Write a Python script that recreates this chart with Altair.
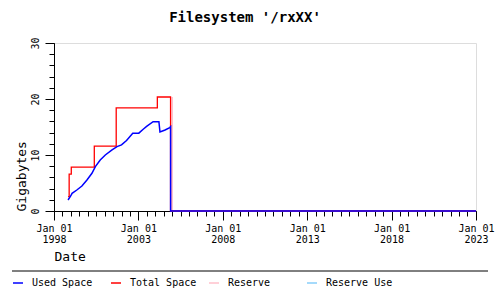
import altair as alt
import pandas as pd

# ---- data ----
used_dates = ["1998-11-01", "1998-12-28", "1999-01-27", "1999-05-10", "1999-08-28",
              "1999-12-15", "2000-04-01", "2000-06-14", "2000-09-27", "2001-01-15",
              "2001-06-10", "2001-09-25", "2002-01-01", "2002-04-20", "2002-09-01",
              "2003-01-10", "2003-04-15", "2003-06-28", "2003-11-15", "2004-03-20",
              "2004-04-12", "2004-07-31", "2004-11-10", "2004-11-28", "2004-11-28",
              "2023-01-01"]
used_vals = [1.96, 2.68, 3.15, 3.75, 4.46,
             5.54, 6.73, 7.92, 9.1, 10.0,
             10.9, 11.5, 11.8, 12.6, 13.87,
             13.9, 14.6, 15.1, 15.95, 15.95,
             14.1, 14.46, 14.9, 15.06, 0.0,
             0.0]

total_dates = ["1998-11-01", "1998-11-25", "1999-01-10", "2000-05-22", "2001-09-08",
               "2004-02-15", "2004-11-27", "2023-01-01"]
total_vals = [2.55, 6.6, 7.85, 11.6, 18.4, 20.36, 0.0, 0.0]

reserve_dates = ["2005-01-02", "2005-01-02", "2023-01-01"]
reserve_vals = [20.36, 0.0, 0.0]

reserve_use_dates = ["2005-01-02", "2023-01-01"]
reserve_use_vals = [0.0, 0.0]

series_names = ["Used Space", "Total Space", "Reserve", "Reserve Use"]
series_colors = ["#0000ff", "#ff0000", "#ffc0cb", "#87cefa"]

major_years = list(range(1998, 2024, 5))
y_major = [0, 10, 20, 30]
y_minor = list(range(0, 31, 2))

FONT = "DejaVu Sans Mono"


def frame(dates, vals, name):
    return pd.DataFrame({
        "date": pd.to_datetime(dates),
        "value": vals,
        "series": name,
        "order": list(range(len(vals))),
    })


df_used = frame(used_dates, used_vals, series_names[0])
df_total = frame(total_dates, total_vals, series_names[1])
df_res = frame(reserve_dates, reserve_vals, series_names[2])
df_resuse = frame(reserve_use_dates, reserve_use_vals, series_names[3])

x_domain = [alt.DateTime(year=1998, month=1, date=1), alt.DateTime(year=2023, month=1, date=1)]
x_major_vals = [alt.DateTime(year=y, month=1, date=1) for y in major_years]
x_minor_vals = []
for y in range(1998, 2023):
    x_minor_vals.append(alt.DateTime(year=y, month=1, date=1))
    x_minor_vals.append(alt.DateTime(year=y, month=7, date=1))
x_minor_vals.append(alt.DateTime(year=2023, month=1, date=1))

x_scale = alt.Scale(domain=x_domain)
y_scale = alt.Scale(domain=[0, 30], nice=False, zero=True)

color_enc = alt.Color(
    "series:N",
    scale=alt.Scale(domain=series_names, range=series_colors),
    legend=alt.Legend(
        title=None, orient="none", legendX=-42, legendY=234,
        direction="horizontal", columns=4, symbolType="stroke",
        symbolSize=100, symbolStrokeWidth=1.5, labelOffset=8,
        columnPadding=9, padding=0, labelFont=FONT, labelFontSize=10,
        labelColor="black", gridAlign="all",
    ),
)

major_x_axis = alt.Axis(
    orient="bottom", values=x_major_vals, tickSize=9, tickColor="black",
    domainColor="black", labelColor="black", labelFont=FONT, labelFontSize=10,
    labelExpr="[timeFormat(datum.value, '%b %d'), timeFormat(datum.value, '%Y')]",
    labelLineHeight=11, labelPadding=3, labelBaseline="top", labelFlush=False,
    labelOverlap=False, grid=False,
    title="Date", titleFont=FONT, titleFontSize=13, titleFontWeight="normal",
    titleColor="black", titleAnchor="start", titleAlign="left", titleX=0, titleY=49,
    titleBaseline="alphabetic",
)
minor_x_axis = alt.Axis(
    orient="bottom", values=x_minor_vals, tickSize=5, tickColor="black",
    domain=False, labels=False, title=None, grid=False,
)
major_y_axis = alt.Axis(
    orient="left", values=y_major, tickSize=9, tickColor="black",
    domainColor="black", labelColor="black", labelFont=FONT, labelFontSize=10,
    labelAngle=-90, labelAlign="center", labelBaseline="alphabetic", labelPadding=7,
    grid=False,
    title="Gigabytes", titleFont=FONT, titleFontSize=13, titleFontWeight="normal",
    titleColor="black", titleAngle=270, titleAlign="left", titleBaseline="alphabetic",
    titleX=-29, titleY=168,
)
minor_y_axis = alt.Axis(
    orient="left", values=y_minor, tickSize=5, tickColor="black",
    domain=False, labels=False, title=None, grid=False,
)

reserve = alt.Chart(df_res).mark_line(strokeWidth=1.5).encode(
    x=alt.X("date:T", scale=x_scale, axis=major_x_axis),
    y=alt.Y("value:Q", scale=y_scale, axis=major_y_axis),
    color=color_enc,
    order="order:Q",
)
reserve_use = alt.Chart(df_resuse).mark_line(strokeWidth=1.5).encode(
    x=alt.X("date:T", scale=x_scale, axis=minor_x_axis),
    y=alt.Y("value:Q", scale=y_scale, axis=minor_y_axis),
    color=color_enc,
    order="order:Q",
)
total = alt.Chart(df_total).mark_line(strokeWidth=1.3, interpolate="step-after").encode(
    x=alt.X("date:T", scale=x_scale, axis=None),
    y=alt.Y("value:Q", scale=y_scale, axis=None),
    color=color_enc,
    order="order:Q",
)
used = alt.Chart(df_used).mark_line(strokeWidth=1.5).encode(
    x=alt.X("date:T", scale=x_scale, axis=None),
    y=alt.Y("value:Q", scale=y_scale, axis=None),
    color=color_enc,
    order="order:Q",
)
sep = alt.Chart(pd.DataFrame({"k": [0]})).mark_rule(color="black", strokeWidth=1).encode(
    x=alt.value(-42), x2=alt.value(434), y=alt.value(228)
)

chart = alt.layer(reserve, reserve_use, total, used, sep).resolve_axis(
    x="independent", y="independent"
).properties(
    width=422, height=168,
    padding={"left": 54, "top": 43, "right": 24, "bottom": 89},
    autosize=alt.AutoSizeParams(type="none"),
    title=alt.TitleParams(
        "Filesystem '/rxXX'", font=FONT, fontSize=14, fontWeight="bold",
        anchor="middle", dx=-20, offset=12, color="black",
    ),
).configure_view(stroke=None).configure(background="white")

chart.save("out.html", embed_options={"renderer": "svg", "actions": False})
